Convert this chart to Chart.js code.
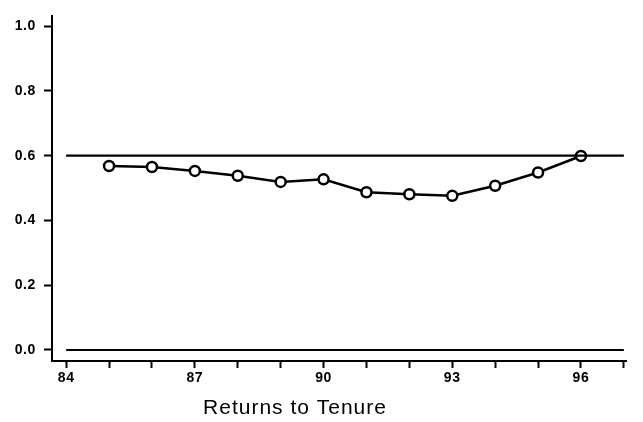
<!DOCTYPE html>
<html>
<head>
<meta charset="utf-8">
<script src="https://cdn.jsdelivr.net/npm/chart.js@4.4.0/dist/chart.umd.min.js"></script>
<style>
	body { margin: 0; background: #fff; }
	canvas { display: block; }
</style>
</head>
<body>
<canvas id="chart" width="643" height="422"></canvas>
<script>
// Data
const years = [85, 86, 87, 88, 89, 90, 91, 92, 93, 94, 95, 96];
const returns = [0.568, 0.565, 0.553, 0.538, 0.519, 0.527, 0.487, 0.481, 0.476, 0.507, 0.548, 0.599];
const refLevels = [0.6, 0.0];
const refSpan = [84, 97];
const xTicks = [84, 85, 86, 87, 88, 89, 90, 91, 92, 93, 94, 95, 96, 97];
const xTickLabels = ["84", "", "", "87", "", "", "90", "", "", "93", "", "", "96", ""];
const yTicks = [0, 0.2, 0.4, 0.6, 0.8, 1.0];
const axisTitle = "Returns to Tenure";

const FONT = "'Liberation Sans', Arial, sans-serif";

// scanned original has wide letters, so spread the text a bit
const spacing = {
	id: "spacing",
	beforeDraw: (chart) => {
		chart.ctx.letterSpacing = "0.6px";
	}
};

// axis title below the plot (sits left of centre in the original)
const bottomTitle = {
	id: "bottomTitle",
	afterDraw: (chart) => {
		const ctx = chart.ctx;
		ctx.save();
		ctx.font = "21px " + FONT;
		ctx.letterSpacing = "1px";
		ctx.fillStyle = "#000";
		ctx.textAlign = "center";
		ctx.textBaseline = "middle";
		ctx.fillText(axisTitle, 295, 408);
		ctx.restore();
	}
};

const datasets = refLevels.map((level) => ({
	data: refSpan.map((x) => ({ x: x, y: level })),
	borderColor: "#000",
	borderWidth: 2.2,
	pointRadius: 0,
	pointHoverRadius: 0
}));

datasets.push({
	data: years.map((y, i) => ({ x: y, y: returns[i] })),
	borderColor: "#000",
	borderWidth: 2.5,
	pointRadius: 5,
	pointBorderWidth: 2.5,
	pointBackgroundColor: "#fff",
	pointBorderColor: "#000"
});

new Chart(document.getElementById("chart").getContext("2d"), {
	type: "line",
	data: { datasets: datasets },
	options: {
		responsive: false,
		animation: false,
		layout: {
			padding: { left: 0, right: 17, top: 12, bottom: 0 }
		},
		plugins: {
			legend: { display: false },
			tooltip: { enabled: false },
			title: { display: false }
		},
		scales: {
			x: {
				type: "linear",
				min: 83.67,
				max: 97.05,
				afterBuildTicks: (scale) => {
					scale.ticks = xTicks.map((v) => ({ value: v }));
				},
				afterFit: (scale) => {
					scale.height = 61;
				},
				ticks: {
					autoSkip: false,
					maxRotation: 0,
					padding: 2,
					color: "#000",
					font: { family: FONT, size: 14, weight: "bold" },
					callback: (value, index) => xTickLabels[index]
				},
				grid: {
					drawOnChartArea: false,
					drawTicks: true,
					tickLength: 7,
					tickWidth: 2,
					tickColor: "#000"
				},
				border: { display: true, color: "#000", width: 2 }
			},
			y: {
				min: -0.034,
				max: 1.03,
				afterBuildTicks: (scale) => {
					scale.ticks = yTicks.map((v) => ({ value: v }));
				},
				afterFit: (scale) => {
					scale.width = 52;
				},
				ticks: {
					padding: 8,
					color: "#000",
					font: { family: FONT, size: 14, weight: "bold" },
					callback: (value) => value.toFixed(1)
				},
				grid: {
					drawOnChartArea: false,
					drawTicks: true,
					tickLength: 8,
					tickWidth: 2,
					tickColor: "#000"
				},
				border: { display: true, color: "#000", width: 2 }
			}
		}
	},
	plugins: [spacing, bottomTitle]
});
</script>
</body>
</html>
